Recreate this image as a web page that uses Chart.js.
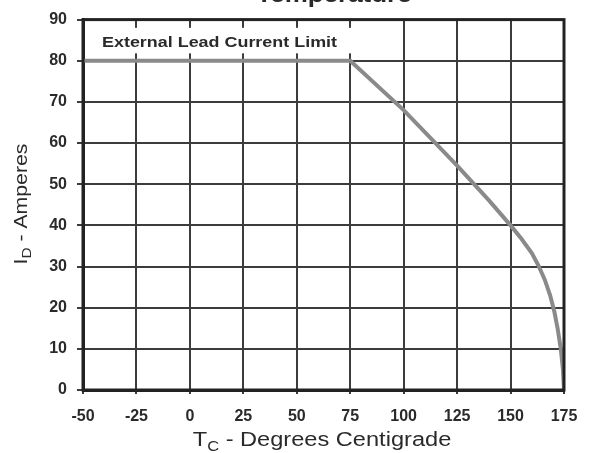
<!DOCTYPE html>
<html>
<head>
<meta charset="utf-8">
<script src="https://cdn.jsdelivr.net/npm/chart.js@4.4.1/dist/chart.umd.min.js"></script>
<style>
  html, body { margin: 0; padding: 0; background: #fff; }
  #wrap { width: 591px; height: 453px; position: relative; }
</style>
</head>
<body>
<div id="wrap"><canvas id="chart"></canvas></div>
<script>
// values
const caseTemps = [-50, 75, 100, 125, 140, 150, 155, 160, 163, 166, 168.5, 170.5, 172, 173.5, 174.5, 175];
const drainAmps = [80, 80, 68, 54.5, 46, 40, 36.8, 33.2, 30.3, 26.8, 23, 19, 15, 10, 5, 0];

const xTicks = [-50, -25, 0, 25, 50, 75, 100, 125, 150, 175];
const yTicks = [0, 10, 20, 30, 40, 50, 60, 70, 80, 90];

const titleText = 'Temperature';
const noteText = 'External Lead Current Limit';

const FONT = '"Liberation Sans", Arial, sans-serif';
const GRID = '#3c3c3c';
const STRETCH = 1.18;

// write a run of [text, size, baselineShift] pieces centred on cx, widened a little
function drawPieces(ctx, pieces, cx, cy, weight) {
    ctx.save();
    ctx.translate(cx, cy);
    ctx.scale(STRETCH, 1);
    let total = 0;
    pieces.forEach(p => { ctx.font = weight + p[1] + 'px ' + FONT; total += ctx.measureText(p[0]).width; });
    let px = -total / 2;
    pieces.forEach(p => {
        ctx.font = weight + p[1] + 'px ' + FONT;
        ctx.fillText(p[0], px, p[2]);
        px += ctx.measureText(p[0]).width;
    });
    ctx.restore();
}

// draws the cut-off title, the boxed note, axis titles with subscripts and the frame
const extras = {
    id: 'extras',
    beforeDatasetsDraw(chart) {
        const { ctx, scales: { x, y } } = chart;
        const left = x.getPixelForValue(-50);
        const right = x.getPixelForValue(75) + 3;
        ctx.save();
        ctx.fillStyle = '#fff';
        ctx.fillRect(left + 2, y.getPixelForValue(88), right - left - 2, y.getPixelForValue(81.8) - y.getPixelForValue(88));
        ctx.fillStyle = '#2a2a2a';
        ctx.textBaseline = 'middle';
        ctx.font = 'bold 15.2px ' + FONT;
        const w = ctx.measureText(noteText).width * STRETCH;
        drawPieces(ctx, [[noteText, 15.2, 0]], left + 19 + w / 2, y.getPixelForValue(84.4), 'bold ');
        ctx.restore();
    },
    afterDraw(chart) {
        const { ctx, chartArea: a } = chart;
        ctx.save();
        // frame
        ctx.strokeStyle = '#222';
        ctx.lineWidth = 3;
        ctx.strokeRect(a.left, a.top, a.right - a.left, a.bottom - a.top);

        ctx.fillStyle = '#2a2a2a';
        ctx.textBaseline = 'alphabetic';
        // title, top part is off the page
        drawPieces(ctx, [[titleText, 22, 0]], 334, 2, 'bold ');

        // x axis title
        drawPieces(ctx, [['T', 20, 0], ['C', 14, 5], [' - Degrees Centigrade', 20, 0]], 322, 446, '');

        // y axis title, rotated
        ctx.translate(27, 204);
        ctx.rotate(-Math.PI / 2);
        drawPieces(ctx, [['I', 18, 0], ['D', 13, 4], [' - Amperes', 18, 0]], 0, 0, '');
        ctx.restore();
    }
};

new Chart(document.getElementById('chart').getContext('2d'), {
    type: 'line',
    data: {
        datasets: [{
            data: caseTemps.map((t, i) => ({ x: t, y: drainAmps[i] })),
            borderColor: '#8a8a8a',
            borderWidth: 4,
            pointRadius: 0,
            tension: 0,
            fill: false
        }]
    },
    options: {
        responsive: true,
        maintainAspectRatio: false,
        animation: false,
        layout: { padding: { top: 16, right: 27, left: 0, bottom: 0 } },
        plugins: {
            legend: { display: false },
            tooltip: { enabled: false }
        },
        scales: {
            x: {
                type: 'linear',
                min: -50,
                max: 175,
                afterFit: s => { s.height = 63; },
                afterBuildTicks: s => { s.ticks = xTicks.map(v => ({ value: v })); },
                grid: { color: GRID, lineWidth: 2, tickLength: 4 },
                border: { color: '#222', width: 3 },
                ticks: {
                    color: '#2a2a2a',
                    padding: 13,
                    maxRotation: 0,
                    font: { family: FONT, size: 16, weight: 'bold' }
                }
            },
            y: {
                min: 0,
                max: 90,
                afterFit: s => { s.width = 83; },
                afterBuildTicks: s => { s.ticks = yTicks.map(v => ({ value: v })); },
                grid: { color: GRID, lineWidth: 2, tickLength: 6 },
                border: { color: '#222', width: 3 },
                ticks: {
                    color: '#2a2a2a',
                    padding: 10,
                    font: { family: FONT, size: 16, weight: 'bold' }
                }
            }
        }
    },
    plugins: [extras]
});
</script>
</body>
</html>
